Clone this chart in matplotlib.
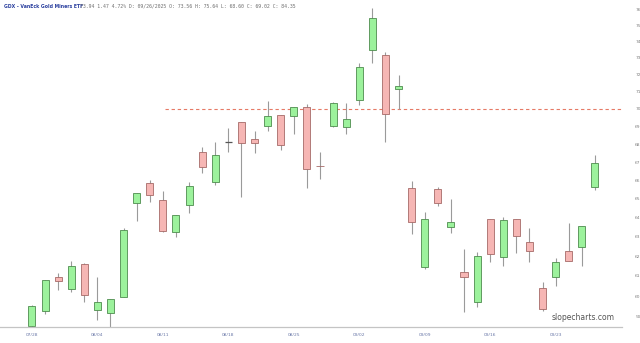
import matplotlib
matplotlib.use('Agg')
import matplotlib.pyplot as plt
from matplotlib.ticker import FixedLocator, NullLocator

# daily OHLC (log price scale)
opens = [58.54, 59.26, 60.95, 60.35, 61.60, 59.31, 59.17, 59.95, 64.78, 65.85,
         64.94, 63.25, 64.67, 67.56, 65.91, 68.12, 69.25, 68.29, 69.02, 69.65,
         69.59, 70.10, 66.80, 69.02, 68.96, 70.51, 73.48, 73.17, 71.16, 65.58,
         61.45, 65.53, 63.51, 61.20, 59.70, 63.93, 61.97, 63.93, 62.74, 60.40,
         60.95, 62.28, 62.48, 65.63]
closes = [59.51, 60.80, 60.75, 61.50, 60.05, 59.70, 59.85, 63.35, 65.31, 65.21,
          63.30, 64.14, 65.69, 66.73, 67.39, 68.12, 68.06, 68.06, 69.59, 67.95,
          70.10, 66.62, 66.76, 70.34, 69.42, 72.46, 75.44, 69.70, 71.33, 63.77,
          63.93, 64.78, 63.77, 60.95, 62.02, 62.12, 63.88, 63.04, 62.28, 59.36,
          61.71, 61.76, 63.56, 66.95]
highs = [59.56, 60.82, 61.15, 61.76, 61.65, 60.95, 59.87, 63.46, 65.33, 66.02,
         65.42, 64.16, 65.91, 67.84, 68.12, 68.90, 69.27, 68.73, 70.45, 69.67,
         70.12, 70.28, 67.56, 70.39, 70.34, 72.69, 76.07, 73.36, 71.98, 65.96,
         64.30, 65.63, 64.99, 62.38, 62.23, 63.95, 64.04, 63.95, 63.46, 60.70,
         61.91, 63.72, 63.58, 67.39]
lows = [58.49, 59.12, 60.30, 60.20, 59.70, 58.83, 58.34, 59.93, 63.82, 64.83,
        63.25, 62.99, 64.25, 66.40, 65.74, 67.56, 65.10, 67.50, 68.73, 67.67,
        68.56, 65.58, 66.07, 68.96, 68.56, 70.22, 72.69, 68.12, 69.99, 63.15,
        61.35, 64.62, 63.20, 59.21, 59.46, 61.71, 61.50, 62.17, 61.71, 59.26,
        60.50, 61.74, 61.50, 65.47]

date_ticks = [0, 5, 10, 15, 20, 25, 30, 35, 40]
date_labels = ['07/28', '08/04', '08/11', '08/18', '08/25', '09/02', '09/09', '09/16', '09/23']
price_ticks = list(range(59, 77))
hline_level = 70

fig = plt.figure(figsize=(6.4, 3.43), dpi=100)
ax = fig.add_axes([0, 16/343, 622/640, 327/343])
ax.set_yscale('log')

up_fill, up_edge = '#9cf29c', '#4e8c4e'
dn_fill, dn_edge = '#f6b6b4', '#a66a68'

for i in range(len(opens)):
    o, h, l, c = opens[i], highs[i], lows[i], closes[i]
    ax.vlines(i, l, h, color='#9a9a9a', lw=0.8, zorder=1)
    if o == c:
        ax.hlines(o, i - 0.25, i + 0.25, color='#555555', lw=0.9, zorder=2)
        continue
    if c > o:
        fc, ec = up_fill, up_edge
    else:
        fc, ec = dn_fill, dn_edge
    ax.bar(i, abs(c - o), bottom=min(o, c), width=0.54, color=fc,
           edgecolor=ec, linewidth=0.6, zorder=2)

ax.hlines(hline_level, 10.2, 45.07, colors='#e67a66', linestyles=(0, (3, 2.5)),
          lw=0.8, zorder=0)

ax.set_xlim(-2.44, 45.07)
ax.set_ylim(58.49, 76.57)

ax.yaxis.set_major_locator(FixedLocator(price_ticks))
ax.yaxis.set_minor_locator(NullLocator())
ax.set_yticklabels([str(p) for p in price_ticks])
ax.tick_params(axis='y', left=False, labelleft=False, right=False, labelright=True,
               labelsize=3.2, labelcolor='#808080', pad=6)

ax.set_xticks(date_ticks)
ax.set_xticklabels(date_labels)
ax.tick_params(axis='x', length=0, labelsize=3.2, labelcolor='#6a78a8', pad=4)

for s in ['left', 'top', 'right']:
    ax.spines[s].set_visible(False)
ax.spines['bottom'].set_color('#c4c4c4')
ax.spines['bottom'].set_linewidth(0.9)

fig.text(4/640, 1 - 6/343, 'GDX - VanEck Gold Miners ETF', fontsize=3.3,
         fontweight='bold', color='#2a3f9e', va='center')
fig.text(80/640, 1 - 6/343,
         '73.94 1.47 4.72% D: 09/26/2025 O: 73.56 H: 75.64 L: 68.60 C: 69.02 C: 84.35',
         fontsize=3.5, family='DejaVu Sans Mono', color='#707070', va='center')
fig.text(583/640, 1 - 318/343, 'slopecharts.com', fontsize=5.5, color='#555555',
         ha='center', va='center')

fig.savefig('out.png', dpi=100)
